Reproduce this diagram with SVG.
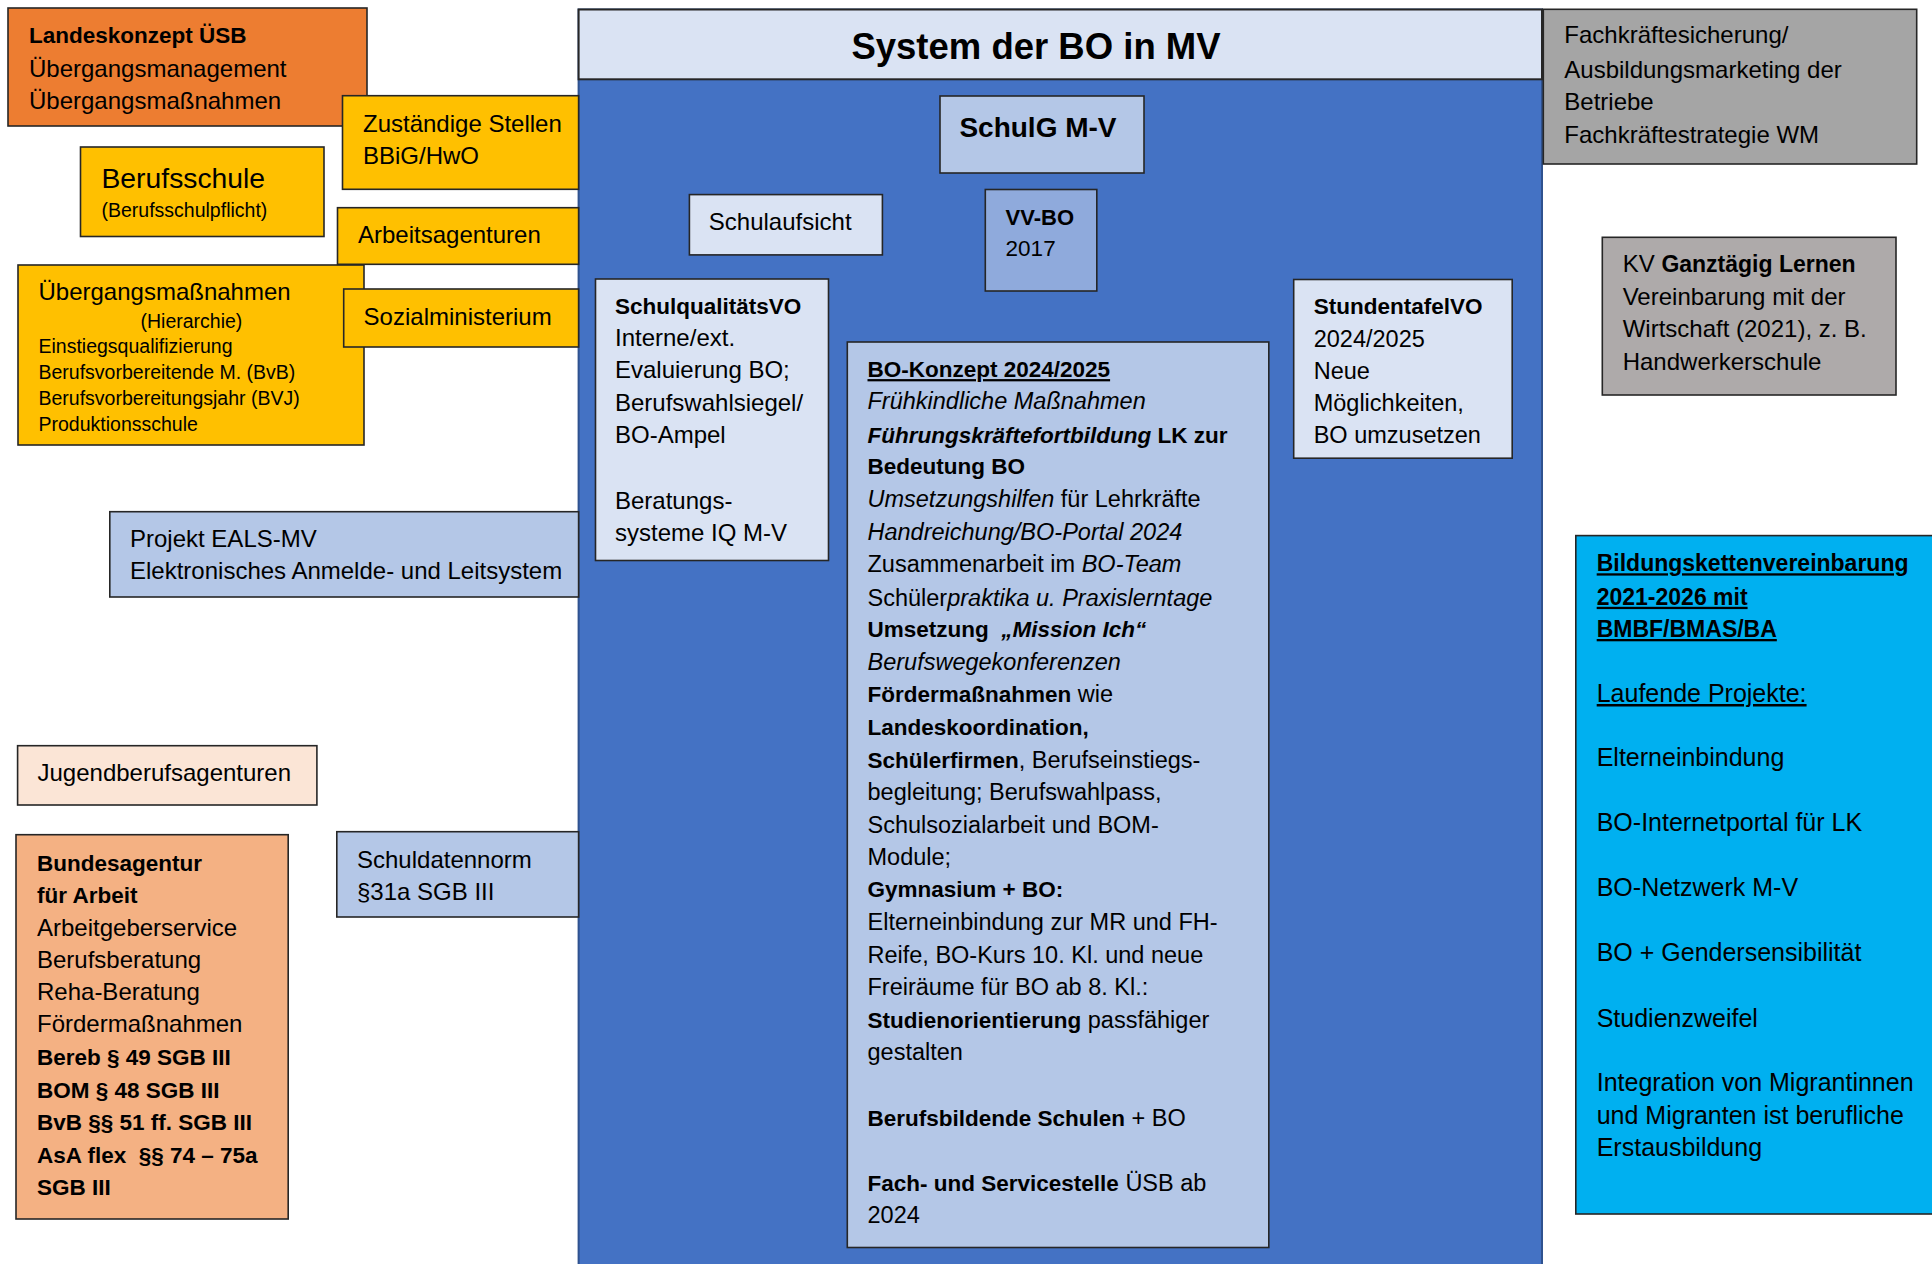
<svg xmlns="http://www.w3.org/2000/svg" width="1932" height="1264" viewBox="0 0 1932 1264">
<style>
text{font-family:"Liberation Sans",Arial,sans-serif;font-size:24px;fill:#000}
.box{stroke:#262626;stroke-width:1.6}
.b{font-weight:bold;font-size:22.5px}
.i{font-style:italic}
.bi{font-weight:bold;font-style:italic;font-size:22.5px}
.u{text-decoration:underline}
.s{font-size:19.5px}
.c{font-size:23.5px}
.k{font-size:25px}
</style>
<rect x="0" y="0" width="1932" height="1264" fill="#fff"/>
<g id="connectors"/>

<g id="landeskonzept">
<rect class="box" x="8" y="8" width="359" height="118" fill="#ED7D31"/>
<text x="29" y="43" class="b">Landeskonzept ÜSB</text>
<text x="29" y="77">Übergangsmanagement</text>
<text x="29" y="109">Übergangsmaßnahmen</text>
</g>

<g id="berufsschule">
<rect class="box" x="80.5" y="147" width="243.5" height="89.5" fill="#FFC000"/>
<text x="101.5" y="188" style="font-size:28.3px">Berufsschule</text>
<text x="101.5" y="217" class="s">(Berufsschulpflicht)</text>
</g>

<g id="uebergangsmassnahmen">
<rect class="box" x="18" y="265" width="346" height="180" fill="#FFC000"/>
<text x="38.5" y="300">Übergangsmaßnahmen</text>
<text x="140.5" y="328" class="s">(Hierarchie)</text>
<text x="38.5" y="353" class="s">Einstiegsqualifizierung</text>
<text x="38.5" y="379" class="s">Berufsvorbereitende M. (BvB)</text>
<text x="38.5" y="405" class="s">Berufsvorbereitungsjahr (BVJ)</text>
<text x="38.5" y="431" class="s">Produktionsschule</text>
</g>

<g id="jugendberufsagenturen">
<rect class="box" x="17.6" y="745.7" width="299.3" height="59.3" fill="#FBE5D6"/>
<text x="37.5" y="780.7">Jugendberufsagenturen</text>
</g>

<g id="bundesagentur">
<rect class="box" x="16" y="834.7" width="272.2" height="384.3" fill="#F4B183"/>
<text x="37" y="870.7" class="b">Bundesagentur</text>
<text x="37" y="902.7" class="b">für Arbeit</text>
<text x="37" y="935.5">Arbeitgeberservice</text>
<text x="37" y="967.5">Berufsberatung</text>
<text x="37" y="1000">Reha-Beratung</text>
<text x="37" y="1032">Fördermaßnahmen</text>
<text x="37" y="1065" class="b">Bereb § 49 SGB III</text>
<text x="37" y="1097.5" class="b">BOM § 48 SGB III</text>
<text x="37" y="1130" class="b">BvB §§ 51 ff. SGB III</text>
<text x="37" y="1162.5" class="b">AsA flex&#160; §§ 74 – 75a</text>
<text x="37" y="1195" class="b">SGB III</text>
</g>

<g id="system-bo-mv">
<rect x="578.6" y="9.5" width="963.4" height="1265" fill="#4472C4" stroke="#2F528F" stroke-width="2"/>
<rect x="578.6" y="9.5" width="963.4" height="69.8" fill="#DAE3F3" stroke="#262626" stroke-width="2"/>
<text x="1036" y="59" text-anchor="middle" style="font-weight:bold;font-size:36.5px">System der BO in MV</text>
</g>

<g id="schulg">
<rect class="box" x="940" y="96" width="204" height="77" fill="#B4C7E7"/>
<text x="959.4" y="136.7" style="font-weight:bold;font-size:28px">SchulG M-V</text>
</g>

<g id="schulaufsicht">
<rect class="box" x="689.4" y="194.6" width="193" height="60.3" fill="#DAE3F3"/>
<text x="708.8" y="230.3">Schulaufsicht</text>
</g>

<g id="vv-bo">
<rect class="box" x="985.3" y="189.5" width="111.5" height="101.5" fill="#8FAADC"/>
<text x="1005.6" y="225" style="font-weight:bold;font-size:22px">VV-BO</text>
<text x="1005.6" y="256.3" style="font-size:22.5px">2017</text>
</g>

<g id="schulqualitaetsvo">
<rect class="box" x="595.5" y="279" width="233" height="281.5" fill="#DAE3F3"/>
<text x="615" y="314.2" class="b">SchulqualitätsVO</text>
<text x="615" y="346.3">Interne/ext.</text>
<text x="615" y="378.4">Evaluierung BO;</text>
<text x="615" y="410.6">Berufswahlsiegel/</text>
<text x="615" y="442.7">BO-Ampel</text>
<text x="615" y="508.7">Beratungs-</text>
<text x="615" y="540.9">systeme IQ M-V</text>
</g>

<g id="stundentafelvo">
<rect class="box" x="1293.7" y="279.5" width="218.5" height="178.7" fill="#DAE3F3"/>
<text x="1313.7" y="314.2" class="b">StundentafelVO</text>
<text x="1313.7" y="347.4" class="c">2024/2025</text>
<text x="1313.7" y="379.1" class="c">Neue</text>
<text x="1313.7" y="410.6" class="c">Möglichkeiten,</text>
<text x="1313.7" y="442.7" class="c">BO umzusetzen</text>
</g>

<g id="bo-konzept">
<rect class="box" x="847.3" y="342" width="421.5" height="905.5" fill="#B4C7E7"/>
<text x="867.5" y="377.1" class="b u">BO-Konzept 2024/2025</text>
<text x="867.5" y="409.3" class="c i">Frühkindliche Maßnahmen</text>
<text x="867.5" y="442.5"><tspan class="bi">Führungskräftefortbildung</tspan><tspan class="b"> LK zur</tspan></text>
<text x="867.5" y="474.2" class="b">Bedeutung BO</text>
<text x="867.5" y="507.4" class="c"><tspan class="i">Umsetzungshilfen</tspan> für Lehrkräfte</text>
<text x="867.5" y="539.6" class="c i">Handreichung/BO-Portal 2024</text>
<text x="867.5" y="572.4" class="c">Zusammenarbeit im <tspan class="i">BO-Team</tspan></text>
<text x="867.5" y="605.6" class="c">Schüler<tspan class="i">praktika u. Praxislerntage</tspan></text>
<text x="867.5" y="637"><tspan class="b">Umsetzung&#160; </tspan><tspan class="bi">„Mission Ich“</tspan></text>
<text x="867.5" y="669.9" class="c i">Berufswegekonferenzen</text>
<text x="867.5" y="702" class="c"><tspan class="b">Fördermaßnahmen</tspan> wie</text>
<text x="867.5" y="735.2" class="b">Landeskoordination,</text>
<text x="867.5" y="768" class="c"><tspan class="b">Schülerfirmen</tspan>, Berufseinstiegs-</text>
<text x="867.5" y="800.2" class="c">begleitung; Berufswahlpass,</text>
<text x="867.5" y="833" class="c">Schulsozialarbeit und BOM-</text>
<text x="867.5" y="865" class="c">Module;</text>
<text x="867.5" y="897.3" class="b">Gymnasium + BO:</text>
<text x="867.5" y="930" class="c">Elterneinbindung zur MR und FH-</text>
<text x="867.5" y="962.7" class="c">Reife, BO-Kurs 10. Kl. und neue</text>
<text x="867.5" y="995" class="c">Freiräume für BO ab 8. Kl.:</text>
<text x="867.5" y="1028.3" class="c"><tspan class="b">Studienorientierung</tspan> passfähiger</text>
<text x="867.5" y="1060" class="c">gestalten</text>
<text x="867.5" y="1125.7" class="c"><tspan class="b">Berufsbildende Schulen</tspan> + BO</text>
<text x="867.5" y="1191" class="c"><tspan class="b">Fach- und Servicestelle</tspan> ÜSB ab</text>
<text x="867.5" y="1223.3" class="c">2024</text>
</g>

<g id="zustaendige-stellen">
<rect class="box" x="342.5" y="95.7" width="236.1" height="93.6" fill="#FFC000"/>
<text x="363" y="131.7">Zuständige Stellen</text>
<text x="363" y="164">BBiG/HwO</text>
</g>

<g id="arbeitsagenturen">
<rect class="box" x="337.5" y="207.7" width="241.1" height="56.6" fill="#FFC000"/>
<text x="358" y="242.7">Arbeitsagenturen</text>
</g>

<g id="sozialministerium">
<rect class="box" x="343.7" y="289" width="234.9" height="58" fill="#FFC000"/>
<text x="363.6" y="325">Sozialministerium</text>
</g>

<g id="eals-mv">
<rect class="box" x="109.8" y="511.7" width="468.8" height="85.3" fill="#B4C7E7"/>
<text x="130" y="546.7">Projekt EALS-MV</text>
<text x="130" y="579.3">Elektronisches Anmelde- und Leitsystem</text>
</g>

<g id="schuldatennorm">
<rect class="box" x="336.8" y="831.7" width="241.8" height="85.3" fill="#B4C7E7"/>
<text x="357" y="868.3">Schuldatennorm</text>
<text x="357" y="900">§31a SGB III</text>
</g>

<g id="fachkraeftesicherung">
<rect class="box" x="1543.3" y="9.3" width="373.4" height="154.7" fill="#A5A5A5"/>
<text x="1564.3" y="43.3">Fachkräftesicherung/</text>
<text x="1564.3" y="77.7">Ausbildungsmarketing der</text>
<text x="1564.3" y="110">Betriebe</text>
<text x="1564.3" y="142.7">Fachkräftestrategie WM</text>
</g>

<g id="kv-ganztaegig">
<rect class="box" x="1602.3" y="237.3" width="293.7" height="157.7" fill="#AEAAAA"/>
<text x="1622.7" y="271.7">KV <tspan class="b" style="font-size:23px">Ganztägig Lernen</tspan></text>
<text x="1622.7" y="305">Vereinbarung mit der</text>
<text x="1622.7" y="336.7">Wirtschaft (2021), z. B.</text>
<text x="1622.7" y="370">Handwerkerschule</text>
</g>

<g id="bildungsketten">
<rect class="box" x="1575.8" y="535.6" width="370" height="678.4" fill="#00B0F0"/>
<text x="1596.7" y="571.3" class="b u" style="font-size:23px">Bildungskettenvereinbarung</text>
<text x="1596.7" y="604.8" class="b u" style="font-size:23px">2021-2026 mit</text>
<text x="1596.7" y="637" class="b u" style="font-size:23px">BMBF/BMAS/BA</text>
<text x="1596.7" y="702" class="k u">Laufende Projekte:</text>
<text x="1596.7" y="766.4" class="k">Elterneinbindung</text>
<text x="1596.7" y="831" class="k">BO-Internetportal für LK</text>
<text x="1596.7" y="895.9" class="k">BO-Netzwerk M-V</text>
<text x="1596.7" y="961" class="k">BO + Gendersensibilität</text>
<text x="1596.7" y="1026.7" class="k">Studienzweifel</text>
<text x="1596.7" y="1091.4" class="k">Integration von Migrantinnen</text>
<text x="1596.7" y="1123.5" class="k">und Migranten ist berufliche</text>
<text x="1596.7" y="1156" class="k">Erstausbildung</text>
</g>
</svg>
